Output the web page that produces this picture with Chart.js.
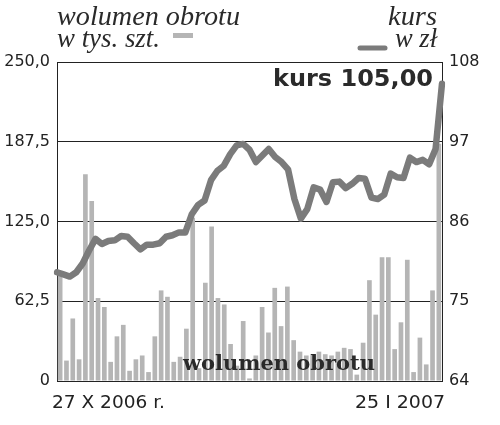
<!DOCTYPE html>
<html>
<head>
<meta charset="utf-8">
<script src="https://cdn.jsdelivr.net/npm/chart.js@4.4.1/dist/chart.umd.min.js"></script>
<style>
  html, body { margin: 0; padding: 0; background: #fff; }
  #wrap { width: 500px; height: 425px; }
</style>
</head>
<body>
<div id="wrap"><canvas id="chart" width="500" height="425"></canvas></div>
<script>
// sessions 27 X 2006 - 25 I 2007
const dates = ['27.10','30.10','31.10','02.11','03.11','06.11','07.11','08.11','09.11','10.11',
  '13.11','14.11','15.11','16.11','17.11','20.11','21.11','22.11','23.11','24.11',
  '27.11','28.11','29.11','30.11','01.12','04.12','05.12','06.12','07.12','08.12',
  '11.12','12.12','13.12','14.12','15.12','18.12','19.12','20.12','21.12','22.12',
  '27.12','28.12','29.12','02.01','03.01','04.01','05.01','08.01','09.01','10.01',
  '11.01','12.01','15.01','16.01','17.01','18.01','19.01','22.01','23.01','24.01','25.01'];

// wolumen obrotu, tys. szt.
const volume = [84, 16, 49, 17, 162, 141, 65, 58, 15, 35,
  44, 8, 17, 20, 7, 35, 71, 66, 15, 19,
  41, 128, 10, 77, 121, 65, 60, 29, 12, 47,
  2, 20, 58, 38, 73, 43, 74, 32, 23, 20,
  20, 23, 21, 20, 23, 26, 25, 5, 30, 79,
  52, 97, 97, 25, 46, 95, 7, 34, 13, 71, 186];

// kurs, zł
const price = [79.0, 78.7, 78.4, 79.0, 80.2, 82.0, 83.6, 82.9, 83.3, 83.4,
  84.0, 83.9, 83.0, 82.15, 82.8, 82.8, 83.0, 83.9, 84.1, 84.5,
  84.5, 87.0, 88.3, 88.9, 91.7, 93.0, 93.7, 95.3, 96.5, 96.7,
  95.9, 94.2, 95.1, 96.0, 94.9, 94.2, 93.2, 89.1, 86.4, 87.7,
  90.7, 90.4, 88.7, 91.4, 91.5, 90.6, 91.2, 92.0, 91.9, 89.3,
  89.1, 89.7, 92.6, 92.1, 92.0, 94.8, 94.2, 94.5, 93.9, 96.0, 105.0];

const volTicks = [0, 62.5, 125, 187.5, 250];
const priceTicks = [64, 75, 86, 97, 108];
const dateLabels = ['27 X 2006 r.', '25 I 2007'];
const lastPrice = '105,00';

const barGray = '#b5b5b5';
const lineGray = '#7b7b7b';
const ink = '#222';

// draws text squeezed/stretched to a given width
function fitText(ctx, text, x, y, w, align) {
  const m = ctx.measureText(text).width;
  const s = w / m;
  ctx.save();
  ctx.translate(x, y);
  ctx.scale(s, 1);
  ctx.textAlign = align;
  ctx.fillText(text, 0, 0);
  ctx.restore();
}

const extras = {
  id: 'extras',
  afterDatasetsDraw(chart) {
    const ctx = chart.ctx;
    const a = chart.chartArea;
    ctx.save();
    ctx.fillStyle = '#2a2a2a';
    ctx.textBaseline = 'alphabetic';

    // label inside the plot
    ctx.font = 'bold 21px "DejaVu Serif"';
    fitText(ctx, 'wolumen obrotu', 183, 370, 192, 'left');

    // last price
    ctx.font = 'bold 23px "DejaVu Sans"';
    fitText(ctx, 'kurs ' + lastPrice, a.right - 9, 86, 160, 'right');
    ctx.restore();
  },
  afterDraw(chart) {
    const ctx = chart.ctx;
    ctx.save();
    ctx.fillStyle = '#2a2a2a';
    ctx.textBaseline = 'alphabetic';

    // headers
    ctx.font = 'italic 28px "Liberation Serif"';
    fitText(ctx, 'wolumen obrotu', 57, 25, 183, 'left');
    fitText(ctx, 'w tys. szt.', 57, 47, 103, 'left');
    fitText(ctx, 'kurs', 437, 25, 49, 'right');
    fitText(ctx, 'w zł', 437, 47, 42, 'right');

    // legend marks
    ctx.fillStyle = barGray;
    ctx.fillRect(173, 33, 20, 5);
    ctx.strokeStyle = lineGray;
    ctx.lineWidth = 5;
    ctx.lineCap = 'round';
    ctx.beginPath();
    ctx.moveTo(360, 48);
    ctx.lineTo(385, 48);
    ctx.stroke();

    // first and last session
    ctx.fillStyle = ink;
    ctx.font = '18px "DejaVu Sans"';
    fitText(ctx, dateLabels[0], 52, 408, 113, 'left');
    fitText(ctx, dateLabels[1], 445, 408, 90, 'right');
    ctx.restore();
  }
};

const ctx = document.getElementById('chart').getContext('2d');
const chart = new Chart(ctx, {
  data: {
    labels: dates,
    datasets: [{
      type: 'line',
      data: price,
      yAxisID: 'y2',
      xAxisID: 'x2',
      borderColor: lineGray,
      borderWidth: 6.5,
      borderJoinStyle: 'round',
      borderCapStyle: 'round',
      pointRadius: 0,
      tension: 0,
      order: 0
    }, {
      type: 'bar',
      data: volume,
      yAxisID: 'y',
      xAxisID: 'x',
      backgroundColor: barGray,
      barPercentage: 0.74,
      categoryPercentage: 1,
      grouped: false, // otherwise the bars come out half as wide
      order: 1
    }]
  },
  options: {
    responsive: false,
    animation: false,
    layout: { padding: { top: 62, bottom: 44, left: 0, right: 0 } },
    plugins: { legend: { display: false }, tooltip: { enabled: false } },
    scales: {
      x: { type: 'category', display: false, offset: true },
      x2: { type: 'category', display: false, offset: false },
      y: {
        position: 'left',
        min: 0, max: 250,
        afterBuildTicks: s => { s.ticks = volTicks.map(v => ({ value: v })); },
        afterFit: s => { s.width = 57; },
        grid: { color: ink, lineWidth: 1, drawTicks: false },
        border: { display: true, color: ink, width: 1 },
        ticks: {
          padding: 7,
          color: ink,
          font: { family: 'DejaVu Sans', size: 16 },
          callback: v => v === 0 ? '0' : v.toFixed(1).replace('.', ',')
        }
      },
      y2: {
        position: 'right',
        min: 64, max: 108,
        afterBuildTicks: s => { s.ticks = priceTicks.map(v => ({ value: v })); },
        afterFit: s => { s.width = 58; },
        grid: { display: false, drawTicks: false },
        border: { display: true, color: ink, width: 1 },
        ticks: {
          padding: 7,
          color: ink,
          font: { family: 'DejaVu Sans', size: 16 }
        }
      }
    }
  },
  plugins: [extras]
});
</script>
</body>
</html>
